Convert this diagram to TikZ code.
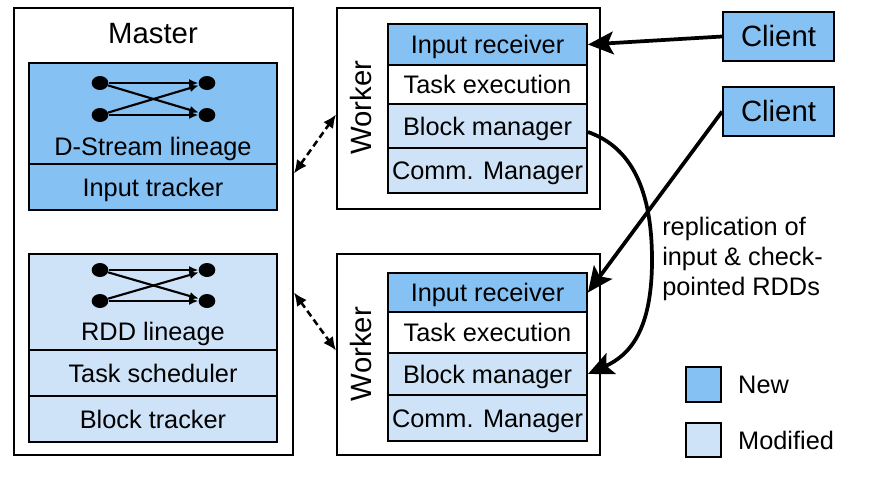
\documentclass[tikz,border=0pt]{standalone}
\usepackage{fontspec}
\setmainfont{Liberation Sans}
\usetikzlibrary{fit,calc,arrows.meta,shapes.geometric}
\definecolor{newblue}{RGB}{134,193,244}
\definecolor{modblue}{RGB}{207,227,248}
\begin{document}
\begin{tikzpicture}[x=0.75pt,y=-0.75pt,
  frame/.style={draw, line width=1.4pt, inner sep=0pt},
  rowtxt/.style={inner sep=0pt, font=\fontsize{19}{22}\selectfont, text height=13.6pt, text depth=0pt},
  bigrowtxt/.style={inner sep=0pt, font=\fontsize{22}{26}\selectfont, text height=15.7pt, text depth=0pt},
  txt/.style={inner sep=0pt, font=\fontsize{19}{22.5}\selectfont},
  bigtxt/.style={inner sep=0pt, font=\fontsize{22}{26}\selectfont},
  dot/.style={ellipse, fill=black, inner sep=0pt, minimum width=12.5pt, minimum height=10.5pt},
  dotarrow/.style={line width=1.6pt, -{Latex[length=7pt,width=6pt]}},
  bigarrow/.style={line width=2.8pt, -{Stealth[length=19pt,width=17pt,inset=4pt]}},
  dasharrow/.style={line width=1.9pt, dash pattern=on 5pt off 3pt, {Latex[length=10pt,width=9pt]}-{Latex[length=10pt,width=9pt]}}
]
\useasboundingbox (0,0) rectangle (870,479);

% Master
\node[frame, fit={(14,8) (293,455)}] (master) {};
\node[bigtxt, anchor=base] (mastertxt) at (153,43) {Master};
\node[frame, fill=newblue, fit={(29,63) (277,164)}] (ds) {};
\node[txt, anchor=base] (dstxt) at (153,155) {D-Stream lineage};
\node[frame, fill=newblue, fit={(29,164) (277,210)}] (it) {};
\node[rowtxt] (ittxt) at (it.center) {Input tracker};
\node[frame, fill=modblue, fit={(29,254) (277,350)}] (rdd) {};
\node[txt, anchor=base] (rddtxt) at (153,340) {RDD lineage};
\node[frame, fill=modblue, fit={(29,350) (277,396)}] (ts) {};
\node[rowtxt] (tstxt) at (ts.center) {Task scheduler};
\node[frame, fill=modblue, fit={(29,396) (277,442)}] (bt) {};
\node[rowtxt] (bttxt) at (bt.center) {Block tracker};

% lineage graphs
\node[dot] (a1) at (100,83) {};
\node[dot] (a2) at (100,115) {};
\node[dot] (a3) at (207,83) {};
\node[dot] (a4) at (207,115) {};
\draw[dotarrow] (a1) -- (a3);
\draw[dotarrow] (a1) -- (a4);
\draw[dotarrow] (a2) -- (a3);
\draw[dotarrow] (a2) -- (a4);
\node[dot] (b1) at (100,270) {};
\node[dot] (b2) at (100,301) {};
\node[dot] (b3) at (207,270) {};
\node[dot] (b4) at (207,301) {};
\draw[dotarrow] (b1) -- (b3);
\draw[dotarrow] (b1) -- (b4);
\draw[dotarrow] (b2) -- (b3);
\draw[dotarrow] (b2) -- (b4);

% Worker 1
\node[frame, fit={(337,8) (600,209)}] (w1) {};
\node[bigrowtxt, rotate=90] (w1txt) at (361,107.5) {Worker};
\node[frame, fill=newblue, fit={(388,24) (587,65)}] (ir1) {};
\node[rowtxt] (ir1txt) at (ir1.center) {Input receiver};
\node[frame, fill=white, fit={(388,65) (587,104)}] (te1) {};
\node[rowtxt] (te1txt) at (te1.center) {Task execution};
\node[frame, fill=modblue, fit={(388,104) (587,148)}] (bm1) {};
\node[rowtxt] (bm1txt) at (bm1.center) {Block manager};
\node[frame, fill=modblue, fit={(388,148) (587,193)}] (cm1) {};
\node[rowtxt] (cm1txt) at (cm1.center) {Comm. Manager};

% Worker 2
\node[frame, fit={(337,254) (600,455)}] (w2) {};
\node[bigrowtxt, rotate=90] (w2txt) at (361,354) {Worker};
\node[frame, fill=newblue, fit={(388,273) (587,312)}] (ir2) {};
\node[rowtxt] (ir2txt) at (ir2.center) {Input receiver};
\node[frame, fill=white, fit={(388,312) (587,353)}] (te2) {};
\node[rowtxt] (te2txt) at (te2.center) {Task execution};
\node[frame, fill=modblue, fit={(388,353) (587,395)}] (bm2) {};
\node[rowtxt] (bm2txt) at (bm2.center) {Block manager};
\node[frame, fill=modblue, fit={(388,395) (587,441)}] (cm2) {};
\node[rowtxt] (cm2txt) at (cm2.center) {Comm. Manager};

% Clients
\node[frame, fill=newblue, fit={(723,12) (834,61)}] (c1) {};
\node[bigrowtxt] (c1txt) at (c1.center) {Client};
\node[frame, fill=newblue, fit={(723,87) (834,136)}] (c2) {};
\node[bigrowtxt] (c2txt) at (c2.center) {Client};

% connectors
\draw[dasharrow] ($(master.east)+(0,-58)$) -- ($(w1.west)+(0,6)$);
\draw[dasharrow] ($(master.east)+(0,61)$) -- ($(w2.west)+(0,-4)$);
\draw[bigarrow] (c1.west) -- (ir1.east);
\draw[bigarrow] (c2.west) -- (ir2.east);
\coordinate (mid) at (652,260);
\draw[bigarrow] ($(bm1.east)+(0,6)$) .. controls (625,145) and (652,180) .. (mid)
   .. controls (652,330) and (630,355) .. (bm2.east);

\node[txt, align=left, anchor=north west] (rep) at (662,217) {replication of\\input \& check-\\pointed RDDs};

% Legend
\node[frame, fill=newblue, fit={(686,367) (721,402)}] (lnew) {};
\node[txt, anchor=west] (lnewtxt) at ($(lnew.east)+(16,0)$) {New};
\node[frame, fill=modblue, fit={(686,423) (721,457)}] (lmod) {};
\node[txt, anchor=west] (lmodtxt) at ($(lmod.east)+(16,0)$) {Modified};
\end{tikzpicture}
\end{document}
